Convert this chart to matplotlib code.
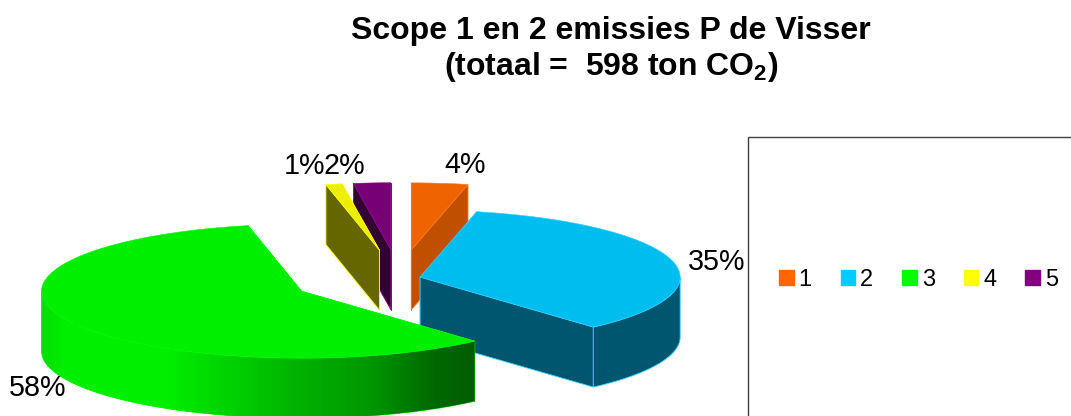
import numpy as np
import matplotlib
matplotlib.use("Agg")
import matplotlib.pyplot as plt
from matplotlib.colors import LinearSegmentedColormap
from matplotlib.patches import Patch, Polygon, Rectangle

plt.rcParams['font.family'] = ['Liberation Sans', 'DejaVu Sans']
plt.rcParams['mathtext.fontset'] = 'custom'
plt.rcParams['mathtext.bf'] = 'Liberation Sans:bold'

# data, percentages
categories = ["1", "2", "3", "4", "5"]
shares = [3.5, 34.9, 58.3, 1.0, 2.3]
labels = ["4%", "35%", "58%", "1%", "2%"]
explode = [0.43, 0.084, 0.42, 0.43, 0.43]

# colours
legend_colors = ["#ff6600", "#00ccff", "#00ff00", "#ffff00", "#800080"]
top_colors = ["#f06400", "#00bdf0", "#00ee00", "#eeee00", "#770077"]
side_colors = ["#c05000", "#00566e", "#00ee00", "#666600", "#330033"]
edge_colors = ["#ff7a20", "#30d0ff", "#00ff00", "#ffff00", "#900090"]

# pie geometry in pixels
cx, cy = 399, 278.5
rx, ry = 260, 67
depth = 60

fig = plt.figure(figsize=(10.71, 4.16), dpi=100)
ax = fig.add_axes([0, 0, 1, 1])
ax.axis("off")


def ell(t, x0, y0):
    # t in degrees, clockwise from 12 o'clock
    t = np.radians(t)
    return x0 + rx * np.sin(t), y0 - ry * np.cos(t)


# slice angles
ends = np.cumsum(shares) / sum(shares) * 360
starts = np.r_[0, ends[:-1]]
order = [4, 3, 0, 1, 2]  # back to front

shade = LinearSegmentedColormap.from_list(
    "shade", [(0, "#00e000"), (0.05, "#00ee00"), (0.29, "#00ee00"), (0.44, "#00d000"),
              (0.6, "#00b000"), (0.75, "#009800"), (0.9, "#006a00"), (1, "#005c00")])

z = 1
for i in order:
    t1, t2 = starts[i], ends[i]
    mid = (t1 + t2) / 2
    x0 = cx + explode[i] * rx * np.sin(np.radians(mid))
    y0 = cy - explode[i] * ry * np.cos(np.radians(mid))

    # cut faces, the one facing the viewer last
    for t in ((t1, t2) if mid < 180 else (t2, t1)):
        xe, ye = ell(t, x0, y0)
        ax.add_patch(Polygon([(x0, y0), (xe, ye), (xe, ye + depth), (x0, y0 + depth)],
                             fc=side_colors[i], ec=edge_colors[i], lw=0.6, zorder=z))
        z += 1

    # outer wall, only the part facing the viewer
    a, b = max(t1, 90), min(t2, 270)
    if b > a:
        ts = np.linspace(a, b, 120)
        xs, ys = ell(ts, x0, y0)
        wall = np.r_[np.c_[xs, ys], np.c_[xs, ys + depth][::-1]]
        poly = Polygon(wall, fc=side_colors[i], ec=edge_colors[i], lw=0.6, zorder=z)
        ax.add_patch(poly)
        z += 1
        if i == 2:
            grad = np.linspace(0, 1, 256).reshape(1, -1)
            im = ax.imshow(grad, cmap=shade, aspect="auto", zorder=z,
                           extent=[xs.min(), xs.max(), ys.max() + depth, ys.min()])
            im.set_clip_path(poly)
            z += 1

    # top face
    ts = np.linspace(t1, t2, 120)
    xs, ys = ell(ts, x0, y0)
    ax.add_patch(Polygon(np.r_[[(x0, y0)], np.c_[xs, ys]], fc=top_colors[i],
                         ec=edge_colors[i], lw=0.4, zorder=z))
    z += 1

ax.set_xlim(0, 1071)
ax.set_ylim(416, 0)

# percentage labels
label_pos = [(465, 165), (717, 262), (38, 388), (304, 166), (344, 166)]
for txt, (lx, ly) in zip(labels, label_pos):
    ax.text(lx, ly, txt, fontsize=20.7, ha="center", va="center", color="black", zorder=50)

# title
ax.text(611, 31, "Scope 1 en 2 emissies P de Visser", fontsize=23, fontweight="bold",
        ha="center", va="center", zorder=50)
ax.text(611, 67, r"(totaal =  598 ton CO$_{\mathbf{2}}$)", fontsize=23, fontweight="bold",
        ha="center", va="center", zorder=50)

# legend box runs off the picture
ax.add_patch(Rectangle((748, 137), 400, 400, fc="white", ec="#404040", lw=1, zorder=0.5))
handles = [Patch(fc=c, ec=c, label=n) for c, n in zip(legend_colors, categories)]
leg = ax.legend(handles=handles, ncol=5, loc="center left",
                bbox_to_anchor=(779 / 1071, 1 - 280 / 416), frameon=False, fontsize=17,
                handlelength=0.62, handleheight=0.62, handletextpad=0.21,
                columnspacing=1.22, borderpad=0, borderaxespad=0)
leg.set_zorder(60)

fig.savefig("out.png", dpi=100, facecolor="white")
